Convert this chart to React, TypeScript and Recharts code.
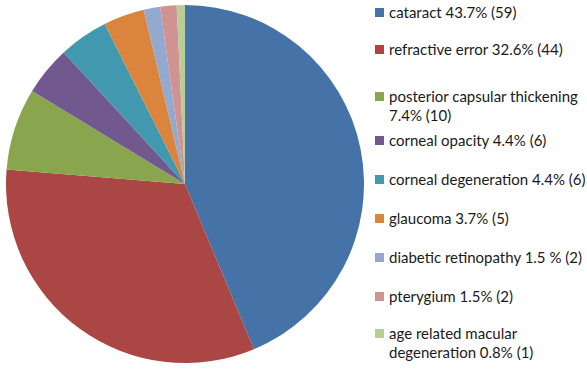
import React from 'react';
import { PieChart, Pie, Cell, Legend } from 'recharts';

const categories = [
  'cataract',
  'refractive error',
  'posterior capsular thickening',
  'corneal opacity',
  'corneal degeneration',
  'glaucoma',
  'diabetic retinopathy',
  'pterygium',
  'age related macular degeneration',
];
const counts = [59, 44, 10, 6, 6, 5, 2, 2, 1];
const legendLines = [
  ['cataract 43.7% (59)'],
  ['refractive error 32.6% (44)'],
  ['posterior capsular thickening', '7.4% (10)'],
  ['corneal opacity 4.4% (6)'],
  ['corneal degeneration 4.4% (6)'],
  ['glaucoma 3.7% (5)'],
  ['diabetic retinopathy 1.5 % (2)'],
  ['pterygium 1.5% (2)'],
  ['age related macular', 'degeneration 0.8% (1)'],
];
const colors = ['#4572A7', '#AA4643', '#89A54E', '#71588F', '#4198AF', '#DB843D', '#93A9CF', '#D19392', '#B9CD96'];

const data = categories.map((name, i) => ({ name, value: counts[i] }));

// vertical centre of the first line of each legend entry (layout)
const itemTops = [12, 49, 96, 140, 179, 218, 257, 296, 333];

const renderLegend = () => (
  <div style={{ position: 'relative', width: 587, height: 380, fontFamily: 'Lato, "Open Sans", sans-serif', fontSize: 15, color: '#1a1a1a' }}>
    {legendLines.map((lines, i) => (
      <div key={i} style={{ position: 'absolute', left: 375, top: itemTops[i] - 9.5 }}>
        <div style={{ position: 'absolute', left: 0, top: 5, width: 9, height: 9, background: colors[i] }} />
        <div style={{ position: 'absolute', left: 14, top: 0, whiteSpace: 'nowrap', lineHeight: '19px' }}>
          {lines.map((l, j) => (
            <div key={j}>{l}</div>
          ))}
        </div>
      </div>
    ))}
  </div>
);

export default function App() {
  return (
    <div style={{ position: 'absolute', left: 0, top: 0, width: 587, height: 380, background: '#fff' }}>
      <PieChart width={587} height={380} margin={{ top: 0, right: 0, bottom: 0, left: 0 }}>
        <Pie
          data={data}
          dataKey="value"
          nameKey="name"
          cx={185}
          cy={184}
          outerRadius={179}
          startAngle={90}
          endAngle={-270}
          stroke="none"
          isAnimationActive={false}
        >
          {data.map((d, i) => (
            <Cell key={d.name} fill={colors[i]} />
          ))}
        </Pie>
        <Legend
          content={renderLegend}
          wrapperStyle={{ position: 'absolute', left: 0, top: 0, width: 587, height: 380 }}
        />
      </PieChart>
    </div>
  );
}
